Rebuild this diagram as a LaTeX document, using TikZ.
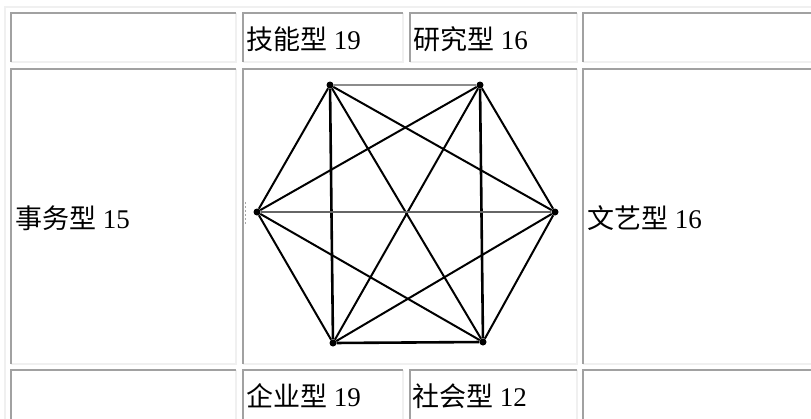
\documentclass[tikz,border=0pt]{standalone}
\usepackage{fontspec}
\setmainfont{Liberation Serif}
\newfontfamily\cjk{Noto Sans CJK SC}
\usetikzlibrary{positioning}

\tikzset{
  darkrule/.style={black!37, line width=2pt},
  lightrule/.style={black!6, line width=2pt},
  celltext/.style={anchor=base west, inner sep=0pt, font=\fontsize{27}{27}\selectfont},
  vertex/.style={circle, fill=black, inner sep=0pt, minimum size=7pt},
  link/.style={line width=2pt},
  boxlink/.style={line width=2.6pt},
}

% one table cell: left, top, right, bottom
\newcommand{\tabcell}[4]{%
  \draw[lightrule] (#1,#4) -- (#3,#4) -- (#3,#2);
  \draw[darkrule] (#1,#4) -- (#1,#2) -- (#3,#2);
}

\begin{document}
\begin{tikzpicture}[x=1pt,y=-1pt]
 \useasboundingbox (0,0) rectangle (811,418);
 \draw[lightrule](5,425)--(5,6.5)--(815,6.5);
 % table cells
 \tabcell{11}{13}{236}{62}
 \tabcell{243}{13}{403}{62}
 \tabcell{410}{13}{577}{62}
 \tabcell{583}{13}{815}{62}
 \tabcell{11}{69}{236}{364}
 \tabcell{243}{69}{577}{364}
 \tabcell{583}{69}{815}{364}
 \tabcell{11}{370}{236}{425}
 \tabcell{243}{370}{403}{425}
 \tabcell{410}{370}{577}{425}
 \tabcell{583}{370}{815}{425}
 % cell texts
 \node[celltext] (skill) at (246,49.5) {{\cjk 技能型} 19};
 \node[celltext] (research) at (413,49.5) {{\cjk 研究型} 16};
 \node[celltext] (office) at (15,228) {{\cjk 事务型} 15};
 \node[celltext] (art) at (587,228) {{\cjk 文艺型} 16};
 \node[celltext] (enterprise) at (246,406) {{\cjk 企业型} 19};
 \node[celltext] (social) at (412,406) {{\cjk 社会型} 12};
 % hexagon
 \node[vertex] (R) at (330,85) {};
 \node[vertex] (I) at (480,85) {};
 \node[vertex] (A) at (555,212) {};
 \node[vertex] (S) at (483,342) {};
 \node[vertex] (E) at (333,343) {};
 \node[vertex] (C) at (257,212) {};
 \foreach \a/\b in {R/A,R/S,R/C,I/A,I/E,I/C,A/S,A/E,S/C,E/C}
  \draw[link](\a)--(\b);
 \draw[boxlink](R)--(E);
 \draw[boxlink](I)--(S);
 \draw[boxlink](E)--(S);
 \draw[boxlink,black!45](R)--(I);
 \draw[boxlink,black!60](C)--(A);
 \draw[black!35,line width=1pt,dash pattern=on 2pt off 2pt](245,202)--(245,224);
\end{tikzpicture}
\end{document}
